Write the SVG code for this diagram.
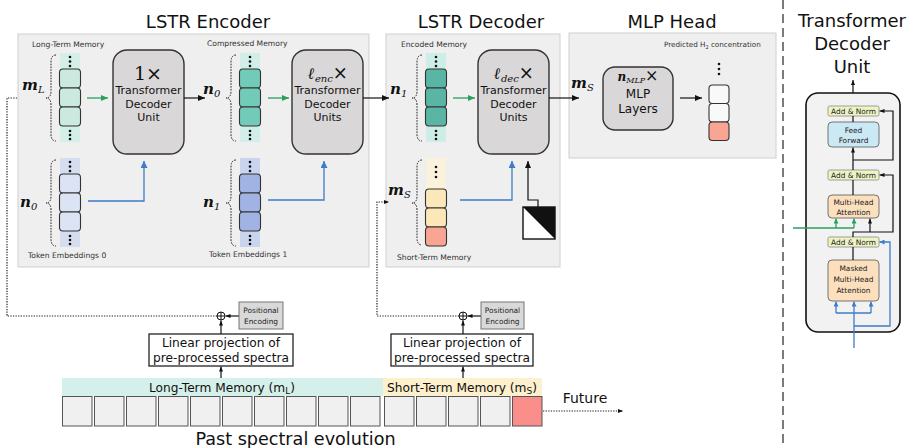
<svg xmlns="http://www.w3.org/2000/svg" width="908" height="448" viewBox="0 0 908 448">
<defs>
<marker id="ah" markerUnits="userSpaceOnUse" markerWidth="7" markerHeight="6" refX="7" refY="3" orient="auto"><path d="M0,0 L7,3 L0,6 z" fill="#111"/></marker>
<marker id="ahs" markerUnits="userSpaceOnUse" markerWidth="5" markerHeight="4" refX="5" refY="2" orient="auto"><path d="M0,0 L5,2 L0,4 z" fill="#111"/></marker>
<marker id="ahg" markerUnits="userSpaceOnUse" markerWidth="7" markerHeight="6" refX="7" refY="3" orient="auto"><path d="M0,0 L7,3 L0,6 z" fill="#2aa05f"/></marker>
<marker id="ahgs" markerUnits="userSpaceOnUse" markerWidth="5" markerHeight="5" refX="5" refY="2.5" orient="auto"><path d="M0,0 L5,2.5 L0,5 z" fill="#2aa05f"/></marker>
<marker id="ahb" markerUnits="userSpaceOnUse" markerWidth="7" markerHeight="7" refX="7" refY="3.5" orient="auto"><path d="M0,0 L7,3.5 L0,7 z" fill="#3d7cc9"/></marker>
<marker id="ahbs" markerUnits="userSpaceOnUse" markerWidth="5" markerHeight="5" refX="5" refY="2.5" orient="auto"><path d="M0,0 L5,2.5 L0,5 z" fill="#3d7cc9"/></marker>
</defs>
<style>
.panel{fill:#efefef;stroke:#cfcfcf;stroke-width:1}
.title{font-family:"DejaVu Sans",sans-serif;font-size:18px;fill:#111;text-anchor:middle}
.small{font-family:"DejaVu Sans",sans-serif;font-size:7.6px;fill:#333}
.tdu{fill:#d9d7d7;stroke:#333;stroke-width:1.4}
.tdut{font-family:"DejaVu Sans",sans-serif;font-size:11px;fill:#111;text-anchor:middle}
.mul{font-family:"DejaVu Serif",serif;font-size:19px;fill:#111;text-anchor:middle}
.mathx{font-family:"DejaVu Serif",serif;fill:#111;text-anchor:middle}
.math{font-family:"DejaVu Serif",serif;font-weight:bold;font-style:italic;font-size:15px;fill:#111}
.sub{font-family:"DejaVu Serif",serif;font-weight:normal;font-style:italic;font-size:10px}
.tok{stroke:#333;stroke-width:1.1}
.dot{fill:#111}
.brace{fill:none;stroke:#222;stroke-width:1;stroke-dasharray:1.6,1.2}
.dotted{fill:none;stroke:#222;stroke-width:1.2;stroke-dasharray:1.3,1.3}
.blk{fill:none;stroke:#111;stroke-width:1.2}
.grn{fill:none;stroke:#2aa05f;stroke-width:1.3}
.blu{fill:none;stroke:#3d7cc9;stroke-width:1.3}
.body{font-family:"DejaVu Sans",sans-serif;font-size:12.2px;fill:#111;text-anchor:middle}
.unit{font-family:"DejaVu Sans",sans-serif;font-size:7.4px;fill:#222;text-anchor:middle}
.an{fill:#eef3c4;stroke:#888;stroke-width:0.8}
.cell{fill:#f0f0f0;stroke:#555;stroke-width:1}
</style>

<!-- titles -->
<text class="title" x="208" y="28">LSTR Encoder</text>
<text class="title" x="481" y="28">LSTR Decoder</text>
<text class="title" x="672" y="28">MLP Head</text>
<g id="tdu-title">
<text class="title" x="852" y="27">Transformer</text>
<text class="title" x="852" y="50">Decoder</text>
<text class="title" x="852" y="73">Unit</text>
</g>
<line x1="783" y1="0" x2="783" y2="448" stroke="#444" stroke-width="1.4" stroke-dasharray="9,5"/>

<!-- panels -->
<rect class="panel" x="18" y="34" width="351" height="233"/>
<rect class="panel" x="386" y="34" width="174" height="233"/>
<rect class="panel" x="569" y="33" width="207" height="125"/>

<!-- Encoder: long-term memory column -->
<g id="long-term-memory">
<text class="small" x="32" y="47">Long-Term Memory</text>
<rect x="60" y="53" width="20" height="89" fill="#d4efe8"/>
<circle class="dot" cx="70" cy="57" r="1.3"/><circle class="dot" cx="70" cy="61.5" r="1.3"/><circle class="dot" cx="70" cy="66" r="1.3"/>
<rect class="tok" x="59.5" y="69" width="21" height="19" rx="3.5" fill="#cce9e0"/>
<rect class="tok" x="59.5" y="88" width="21" height="19" rx="3.5" fill="#cce9e0"/>
<rect class="tok" x="59.5" y="107" width="21" height="19" rx="3.5" fill="#cce9e0"/>
<circle class="dot" cx="70" cy="131" r="1.3"/><circle class="dot" cx="70" cy="135" r="1.3"/><circle class="dot" cx="70" cy="139" r="1.3"/>
<path class="brace" d="M56,55 Q51,55 51,62 L51,91 Q51,98 46,98 Q51,98 51,105 L51,134 Q51,141 56,141"/>
<text class="math" x="22" y="90">m<tspan class="sub" dy="3">L</tspan></text>
</g>

<g id="token-emb-0">
<text class="small" x="28" y="258">Token Embeddings 0</text>
<rect x="60" y="158" width="20" height="89" fill="#d5def0"/>
<circle class="dot" cx="70" cy="162" r="1.3"/><circle class="dot" cx="70" cy="166.5" r="1.3"/><circle class="dot" cx="70" cy="171" r="1.3"/>
<rect class="tok" x="59.5" y="174" width="21" height="19" rx="3.5" fill="#dbe3f4"/>
<rect class="tok" x="59.5" y="193" width="21" height="19" rx="3.5" fill="#dbe3f4"/>
<rect class="tok" x="59.5" y="212" width="21" height="19" rx="3.5" fill="#dbe3f4"/>
<circle class="dot" cx="70" cy="236" r="1.3"/><circle class="dot" cx="70" cy="240" r="1.3"/><circle class="dot" cx="70" cy="244" r="1.3"/>
<path class="brace" d="M56,160 Q51,160 51,167 L51,196 Q51,203 46,203 Q51,203 51,210 L51,239 Q51,246 56,246"/>
<text class="math" x="20" y="207">n<tspan class="sub" dy="3">0</tspan></text>
</g>

<g id="tdu-1">
<rect class="tdu" x="113" y="50" width="71" height="104" rx="14"/>
<text class="mul" x="148" y="80">1×</text>
<text class="tdut" x="148.5" y="94">Transformer</text>
<text class="tdut" x="148.5" y="107.5">Decoder</text>
<text class="tdut" x="148.5" y="121">Unit</text>
</g>

<g id="compressed-memory">
<text class="small" x="207" y="46">Compressed Memory</text>
<rect x="240" y="53" width="20" height="89" fill="#d1efe8"/>
<circle class="dot" cx="250" cy="57" r="1.3"/><circle class="dot" cx="250" cy="61.5" r="1.3"/><circle class="dot" cx="250" cy="66" r="1.3"/>
<rect class="tok" x="239.5" y="69" width="21" height="19" rx="3.5" fill="#72cab8"/>
<rect class="tok" x="239.5" y="88" width="21" height="19" rx="3.5" fill="#72cab8"/>
<rect class="tok" x="239.5" y="107" width="21" height="19" rx="3.5" fill="#72cab8"/>
<circle class="dot" cx="250" cy="131" r="1.3"/><circle class="dot" cx="250" cy="135" r="1.3"/><circle class="dot" cx="250" cy="139" r="1.3"/>
<path class="brace" d="M236,55 Q231,55 231,62 L231,91 Q231,98 226,98 Q231,98 231,105 L231,134 Q231,141 236,141"/>
<text class="math" x="203" y="94">n<tspan class="sub" dy="3">0</tspan></text>
</g>

<g id="token-emb-1">
<text class="small" x="209" y="257">Token Embeddings 1</text>
<rect x="240" y="158" width="20" height="89" fill="#c9d5ee"/>
<circle class="dot" cx="250" cy="162" r="1.3"/><circle class="dot" cx="250" cy="166.5" r="1.3"/><circle class="dot" cx="250" cy="171" r="1.3"/>
<rect class="tok" x="239.5" y="174" width="21" height="19" rx="3.5" fill="#a0b3e2"/>
<rect class="tok" x="239.5" y="193" width="21" height="19" rx="3.5" fill="#a0b3e2"/>
<rect class="tok" x="239.5" y="212" width="21" height="19" rx="3.5" fill="#a0b3e2"/>
<circle class="dot" cx="250" cy="236" r="1.3"/><circle class="dot" cx="250" cy="240" r="1.3"/><circle class="dot" cx="250" cy="244" r="1.3"/>
<path class="brace" d="M236,160 Q231,160 231,167 L231,196 Q231,203 226,203 Q231,203 231,210 L231,239 Q231,246 236,246"/>
<text class="math" x="203" y="207">n<tspan class="sub" dy="3">1</tspan></text>
</g>

<g id="tdu-enc">
<rect class="tdu" x="292" y="50" width="71" height="104" rx="14"/>
<text class="mathx" x="328" y="79"><tspan class="math" style="font-size:16px">ℓ</tspan><tspan class="sub" style="font-size:10px" dy="3">enc</tspan><tspan style="font-size:18px" dy="-3">×</tspan></text>
<text class="tdut" x="327.5" y="94">Transformer</text>
<text class="tdut" x="327.5" y="107.5">Decoder</text>
<text class="tdut" x="327.5" y="121">Units</text>
</g>

<!-- Decoder -->
<g id="encoded-memory">
<text class="small" x="401" y="47">Encoded Memory</text>
<rect x="426" y="53" width="20" height="89" fill="#cdeee6"/>
<circle class="dot" cx="436" cy="57" r="1.3"/><circle class="dot" cx="436" cy="61.5" r="1.3"/><circle class="dot" cx="436" cy="66" r="1.3"/>
<rect class="tok" x="425.5" y="69" width="21" height="19" rx="3.5" fill="#5bb5a5"/>
<rect class="tok" x="425.5" y="88" width="21" height="19" rx="3.5" fill="#5bb5a5"/>
<rect class="tok" x="425.5" y="107" width="21" height="19" rx="3.5" fill="#5bb5a5"/>
<circle class="dot" cx="436" cy="131" r="1.3"/><circle class="dot" cx="436" cy="135" r="1.3"/><circle class="dot" cx="436" cy="139" r="1.3"/>
<path class="brace" d="M422,55 Q417,55 417,62 L417,91 Q417,98 412,98 Q417,98 417,105 L417,134 Q417,141 422,141"/>
<text class="math" x="390" y="94">n<tspan class="sub" dy="3">1</tspan></text>
</g>

<g id="short-term-memory">
<text class="small" x="397" y="260">Short-Term Memory</text>
<rect x="426" y="158" width="20" height="88" fill="#faf2dc"/>
<circle class="dot" cx="436" cy="167" r="1.3"/><circle class="dot" cx="436" cy="172" r="1.3"/><circle class="dot" cx="436" cy="177" r="1.3"/>
<rect class="tok" x="425.5" y="189" width="21" height="19" rx="3.5" fill="#fbe7b7"/>
<rect class="tok" x="425.5" y="208" width="21" height="19" rx="3.5" fill="#fbe7b7"/>
<rect class="tok" x="425.5" y="227" width="21" height="19" rx="3.5" fill="#f8a594"/>
<path class="brace" d="M422,160 Q417,160 417,167 L417,196 Q417,203 412,203 Q417,203 417,210 L417,238 Q417,245 422,245"/>
<text class="math" x="388" y="195">m<tspan class="sub" dy="3">S</tspan></text>
</g>

<g id="tdu-dec">
<rect class="tdu" x="478" y="50" width="71" height="104" rx="14"/>
<text class="mathx" x="514" y="79"><tspan class="math" style="font-size:16px">ℓ</tspan><tspan class="sub" style="font-size:10px" dy="3">dec</tspan><tspan style="font-size:18px" dy="-3">×</tspan></text>
<text class="tdut" x="513.5" y="94">Transformer</text>
<text class="tdut" x="513.5" y="107.5">Decoder</text>
<text class="tdut" x="513.5" y="121">Units</text>
</g>

<g id="mask">
<rect x="523" y="207" width="32" height="32" fill="#fff" stroke="#111" stroke-width="1.4"/>
<path d="M523,207 L555,207 L555,239 z" fill="#111"/>
</g>

<!-- MLP head -->
<g id="mlp">
<rect class="tdu" x="603" y="67" width="70" height="63" rx="12"/>
<text class="mathx" x="638" y="81"><tspan class="math" style="font-size:12px">n</tspan><tspan class="sub" style="font-size:8px" dy="2">MLP</tspan><tspan style="font-size:16px" dy="-2">×</tspan></text>
<text class="tdut" x="638" y="98" style="font-size:12px">MLP</text>
<text class="tdut" x="638" y="113" style="font-size:12px">Layers</text>
</g>
<g id="predicted">
<text class="small" x="664" y="47" style="font-size:7.2px">Predicted H<tspan style="font-size:5px" dy="2">2</tspan><tspan dy="-2"> concentration</tspan></text>
<circle class="dot" cx="719" cy="64" r="1.3"/><circle class="dot" cx="719" cy="69" r="1.3"/><circle class="dot" cx="719" cy="74" r="1.3"/>
<rect class="tok" x="709" y="85" width="20" height="18.5" rx="3.5" fill="#f9f9f9"/>
<rect class="tok" x="709" y="103.5" width="20" height="18.5" rx="3.5" fill="#f9f9f9"/>
<rect class="tok" x="709" y="122" width="20" height="18.5" rx="3.5" fill="#f8a594"/>
<text class="math" x="571" y="88">m<tspan class="sub" dy="3">S</tspan></text>
</g>

<!-- Transformer decoder unit detail -->
<g id="tdu-detail">
<rect x="806" y="93" width="94" height="239" rx="12" fill="#f2f2f2" stroke="#111" stroke-width="1.6"/>
<rect class="an" x="828" y="106" width="51" height="10" rx="1.5"/>
<text class="unit" x="853.5" y="114">Add &amp; Norm</text>
<rect x="828" y="122" width="51" height="25" rx="4" fill="#cbe8f5" stroke="#555" stroke-width="0.8"/>
<text class="unit" x="853.5" y="132.5">Feed</text>
<text class="unit" x="853.5" y="142.5">Forward</text>
<rect class="an" x="828" y="170" width="51" height="10" rx="1.5"/>
<text class="unit" x="853.5" y="178">Add &amp; Norm</text>
<rect x="828" y="195" width="51" height="23" rx="4" fill="#fce0bd" stroke="#555" stroke-width="0.8"/>
<text class="unit" x="853.5" y="205">Multi-Head</text>
<text class="unit" x="853.5" y="215">Attention</text>
<rect class="an" x="828" y="237" width="51" height="10" rx="1.5"/>
<text class="unit" x="853.5" y="245">Add &amp; Norm</text>
<rect x="828" y="260" width="51" height="41" rx="4" fill="#fce0bd" stroke="#555" stroke-width="0.8"/>
<text class="unit" x="853.5" y="271">Masked</text>
<text class="unit" x="853.5" y="282">Multi-Head</text>
<text class="unit" x="853.5" y="293">Attention</text>
</g>

<!-- connectors -->
<g id="connectors">
<line class="grn" x1="87" y1="98" x2="108" y2="98" marker-end="url(#ahg)"/>
<line class="grn" x1="268" y1="98" x2="289" y2="98" marker-end="url(#ahg)"/>
<line class="grn" x1="453" y1="98" x2="475" y2="98" marker-end="url(#ahg)"/>
<line class="blk" x1="184" y1="98" x2="205" y2="98" marker-end="url(#ah)"/>
<line class="blk" x1="363" y1="98" x2="389" y2="98" marker-end="url(#ah)"/>
<line class="blk" x1="549" y1="98" x2="579" y2="98" marker-end="url(#ah)"/>
<line class="blk" x1="680" y1="98" x2="702" y2="98" marker-end="url(#ah)"/>
<path class="blu" d="M88,201 H144 V161" marker-end="url(#ahb)"/>
<path class="blu" d="M268,200 H324 V161" marker-end="url(#ahb)"/>
<path class="blu" d="M460,200 H512 V161" marker-end="url(#ahb)"/>
<path class="blk" d="M538,207 V200 H528 V161" marker-end="url(#ah)"/>

<!-- dotted feeds -->
<path class="dotted" d="M217,316 H7 V98 H18"/>
<path class="dotted" d="M459,316 H377 V202 H389" marker-end="url(#ahs)"/>
<line class="dotted" x1="543" y1="411" x2="623" y2="411" marker-end="url(#ahs)"/>

<!-- TDU internal -->
<line class="blk" x1="853" y1="93" x2="853" y2="80" marker-end="url(#ahs)"/>
<line class="blk" x1="853" y1="116" x2="853" y2="122"/>
<line class="blk" x1="853" y1="170" x2="853" y2="147.5" marker-end="url(#ahs)"/>
<path class="blk" d="M853,160 H893 V111 H879.5" marker-end="url(#ahs)"/>
<line class="blk" x1="853" y1="180" x2="853" y2="195"/>
<path class="blk" d="M853,237 V232 H893 V175 H879.5" marker-end="url(#ahs)"/>
<line class="blk" x1="870" y1="232" x2="870" y2="218.5" marker-end="url(#ahs)"/>
<path class="grn" d="M793,228 H854"/>
<line class="grn" x1="836" y1="228" x2="836" y2="218.5" marker-end="url(#ahgs)"/>
<line class="grn" x1="854" y1="228" x2="854" y2="218.5" marker-end="url(#ahgs)"/>
<line class="blk" x1="853" y1="247" x2="853" y2="260"/>
<path class="blu" d="M854,348 V313"/>
<path class="blu" d="M836,313 H871"/>
<line class="blu" x1="836" y1="313" x2="836" y2="301.5" marker-end="url(#ahbs)"/>
<line class="blu" x1="854" y1="313" x2="854" y2="301.5" marker-end="url(#ahbs)"/>
<line class="blu" x1="871" y1="313" x2="871" y2="301.5" marker-end="url(#ahbs)"/>
<path class="blu" d="M854,326 H890 V242 H879.5" marker-end="url(#ahbs)"/>

<!-- bottom pipeline arrows -->
<line class="blk" x1="221" y1="378" x2="221" y2="366.5" marker-end="url(#ahs)"/>
<line class="blk" x1="221" y1="334" x2="221" y2="320.5" marker-end="url(#ahs)"/>
<line class="blk" x1="239" y1="316" x2="225.5" y2="316" marker-end="url(#ahs)"/>
<line class="blk" x1="463" y1="378" x2="463" y2="366.5" marker-end="url(#ahs)"/>
<line class="blk" x1="463" y1="334" x2="463" y2="320.5" marker-end="url(#ahs)"/>
<line class="blk" x1="481" y1="316" x2="467.5" y2="316" marker-end="url(#ahs)"/>
</g>

<!-- bottom: input pipeline -->
<g id="pipeline-long">
<circle cx="221" cy="316" r="4" fill="#fff" stroke="#111" stroke-width="1"/>
<line x1="217" y1="316" x2="225" y2="316" stroke="#111" stroke-width="1"/>
<line x1="221" y1="312" x2="221" y2="320" stroke="#111" stroke-width="1"/>
<rect x="239" y="302" width="44" height="27" fill="#d9d9d9" stroke="#777" stroke-width="1"/>
<text class="unit" x="261" y="313">Positional</text>
<text class="unit" x="261" y="324">Encoding</text>
<rect x="149" y="334" width="144" height="32" fill="#fff" stroke="#111" stroke-width="1.2"/>
<text class="body" x="221" y="347">Linear projection of</text>
<text class="body" x="221" y="362">pre-processed spectra</text>
</g>
<g id="pipeline-short">
<circle cx="463" cy="316" r="4" fill="#fff" stroke="#111" stroke-width="1"/>
<line x1="459" y1="316" x2="467" y2="316" stroke="#111" stroke-width="1"/>
<line x1="463" y1="312" x2="463" y2="320" stroke="#111" stroke-width="1"/>
<rect x="481" y="302" width="43" height="27" fill="#d9d9d9" stroke="#777" stroke-width="1"/>
<text class="unit" x="502.5" y="313">Positional</text>
<text class="unit" x="502.5" y="324">Encoding</text>
<rect x="391" y="334" width="142" height="32" fill="#fff" stroke="#111" stroke-width="1.2"/>
<text class="body" x="462" y="347">Linear projection of</text>
<text class="body" x="462" y="362">pre-processed spectra</text>
</g>

<g id="timeline">
<rect x="62" y="378" width="321" height="18" fill="#d5f0ea"/>
<rect x="383" y="378" width="159" height="18" fill="#fdf0cc"/>
<text class="body" x="222" y="392">Long-Term Memory (m<tspan style="font-size:9px" dy="2">L</tspan><tspan dy="-2">)</tspan></text>
<text class="body" x="462" y="392">Short-Term Memory (m<tspan style="font-size:9px" dy="2">S</tspan><tspan dy="-2">)</tspan></text>
<rect class="cell" x="62.5" y="396.5" width="29.5" height="29.5"/>
<rect class="cell" x="94.5" y="396.5" width="29.5" height="29.5"/>
<rect class="cell" x="126.5" y="396.5" width="29.5" height="29.5"/>
<rect class="cell" x="158.5" y="396.5" width="29.5" height="29.5"/>
<rect class="cell" x="190.5" y="396.5" width="29.5" height="29.5"/>
<rect class="cell" x="222.5" y="396.5" width="29.5" height="29.5"/>
<rect class="cell" x="254.5" y="396.5" width="29.5" height="29.5"/>
<rect class="cell" x="286.5" y="396.5" width="29.5" height="29.5"/>
<rect class="cell" x="318.5" y="396.5" width="29.5" height="29.5"/>
<rect class="cell" x="350.5" y="396.5" width="29.5" height="29.5"/>
<rect class="cell" x="384.5" y="396.5" width="29.5" height="29.5"/>
<rect class="cell" x="416.5" y="396.5" width="29.5" height="29.5"/>
<rect class="cell" x="448.5" y="396.5" width="29.5" height="29.5"/>
<rect class="cell" x="480.5" y="396.5" width="29.5" height="29.5"/>
<rect class="cell" x="512.5" y="396.5" width="29.5" height="29.5" style="fill:#f98e8a"/>
<text class="body" x="585" y="403" style="font-size:14px">Future</text>
<text class="body" x="295.5" y="445" style="font-size:17.6px">Past spectral evolution</text>
</g>
</svg>
